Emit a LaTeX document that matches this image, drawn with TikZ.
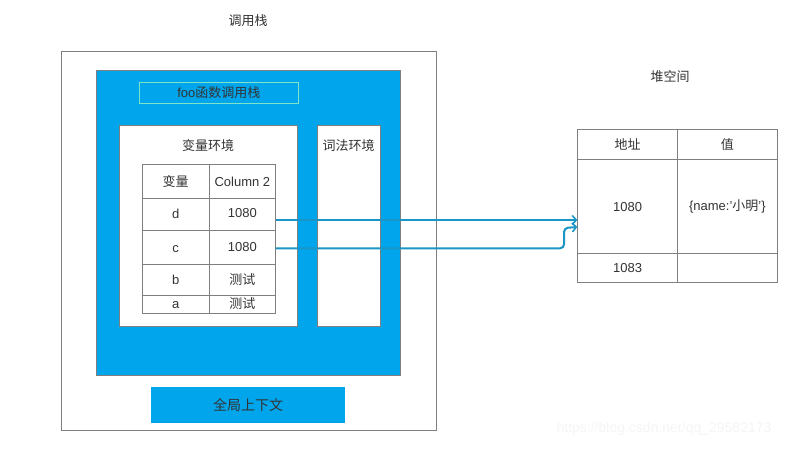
\documentclass[tikz,border=0pt]{standalone}
\usepackage{fontspec}
\defaultfontfeatures{}
\setmainfont{Liberation Sans}
\newfontfamily\cjk{Noto Sans CJK SC}
\usetikzlibrary{arrows.meta}
\definecolor{gborder}{HTML}{7F7F7F}
\definecolor{bluefill}{HTML}{00A5EC}
\definecolor{txt}{HTML}{333333}
\definecolor{teal}{HTML}{7FE3C8}
\definecolor{arrowc}{HTML}{1A96C6}
\definecolor{wm}{HTML}{F5F5F5}
\tikzset{
  box/.style={draw=gborder, line width=0.8pt, inner sep=0pt, anchor=north west},
  cell/.style={draw=gborder, line width=0.8pt, inner sep=0pt, anchor=north west, text=txt, font=\fontsize{13}{15}\selectfont},
  lbl/.style={text=txt, inner sep=0pt, font=\fontsize{13}{15}\selectfont},
  conn/.style={draw=arrowc, line width=2pt, -{Straight Barb[length=4pt,width=9pt,line width=1.6pt]}, rounded corners=4pt}
}
\begin{document}
\begin{tikzpicture}[x=1pt,y=-1pt]
\useasboundingbox[fill=white] (0,0) rectangle (795,448);
% titles
\node[lbl] (t1) at (248,21) {\cjk 调用栈};
\node[lbl] (t2) at (670,77) {\cjk 堆空间};
% outer box
\node[box, minimum width=375, minimum height=379] (outer) at (60.5,50.5) {};
% blue box
\node[box, fill=bluefill, minimum width=303.5, minimum height=305] (blue) at (96,69.5) {};
% foo box
\node[box, draw=teal, minimum width=159, minimum height=21] (foo) at (139,82) {};
\node[lbl] (footxt) at (foo.center) {foo{\cjk 函数调用栈}};
% variable env
\node[box, fill=white, minimum width=178, minimum height=201] (venv) at (119,125) {};
\node[lbl] (venvt) at (208,146) {\cjk 变量环境};
% lexical env
\node[box, fill=white, minimum width=63, minimum height=201] (lenv) at (317,125) {};
\node[lbl] (lenvt) at (348.5,146) {\cjk 词法环境};
% table
\node[cell, minimum width=67.5, minimum height=34] (h1) at (141.5,164.3) {};
\node[cell, minimum width=66, minimum height=34] (h2) at (209,164.3) {};
\node[lbl] (h1t) at (h1.center) {\cjk 变量};
\node[lbl] (h2t) at (h2.center) {Column 2};
\node[cell, minimum width=67.5, minimum height=32] (d1) at (141.5,198.3) {};
\node[cell, minimum width=66, minimum height=32] (d2) at (209,198.3) {};
\node[lbl] (d1t) at ([yshift=1]d1.center) {d};
\node[lbl] (d2t) at ([yshift=2]d2.center) {1080};
\node[cell, minimum width=67.5, minimum height=34] (c1) at (141.5,230.3) {};
\node[cell, minimum width=66, minimum height=34] (c2) at (209,230.3) {};
\node[lbl] (c1t) at ([yshift=-1]c1.center) {c};
\node[lbl] (c2t) at ([yshift=1]c2.center) {1080};
\node[cell, minimum width=67.5, minimum height=31] (b1) at (141.5,264.3) {};
\node[cell, minimum width=66, minimum height=31] (b2) at (209,264.3) {};
\node[lbl] (b1t) at (b1.center) {b};
\node[lbl] (b2t) at ([yshift=1]b2.center) {\cjk 测试};
\node[cell, minimum width=67.5, minimum height=18] (a1) at (141.5,295.3) {};
\node[cell, minimum width=66, minimum height=18] (a2) at (209,295.3) {};
\node[lbl] (a1t) at ([yshift=-0.5]a1.center) {a};
\node[lbl] (a2t) at ([yshift=1.5]a2.center) {\cjk 测试};
% global context
\node[box, draw=none, fill=bluefill, minimum width=193.5, minimum height=35.3] (glob) at (151,387) {};
\node[lbl, font=\fontsize{14}{16}\selectfont] (globt) at (glob.center) {\cjk 全局上下文};
% heap table
\node[cell, minimum width=100, minimum height=30] (hh1) at (577.3,129.3) {};
\node[cell, minimum width=99.4, minimum height=30] (hh2) at (677.3,129.3) {};
\node[lbl] (hh1t) at (hh1.center) {\cjk 地址};
\node[lbl] (hh2t) at (hh2.center) {\cjk 值};
\node[cell, minimum width=100, minimum height=94] (r11) at (577.3,159.3) {};
\node[cell, minimum width=99.4, minimum height=94] (r12) at (677.3,159.3) {};
\node[lbl] (r11t) at (r11.center) {1080};
\node[lbl] (r12t) at (r12.center) {\{name:'{\cjk 小明}'\}};
\node[cell, minimum width=100, minimum height=29] (r21) at (577.3,253.3) {};
\node[cell, minimum width=99.4, minimum height=29] (r22) at (677.3,253.3) {};
\node[lbl] (r21t) at (r21.center) {1083};
% connectors
\coordinate (s1) at (275.5,220);
\coordinate (e1) at (577.3,220);
\coordinate (s2) at (275.5,248.3);
\coordinate (e2) at (577.3,227);
\draw[conn] (s1) -- (e1);
\draw[conn] (s2) -- (564,248.3) -- (564,228) -- (e2);
% watermark
\node[text=wm, inner sep=0pt, font=\fontsize{14}{16}\selectfont] (wmk) at (664,429) {https://blog.csdn.net/qq\_29582173};
\end{tikzpicture}
\end{document}
